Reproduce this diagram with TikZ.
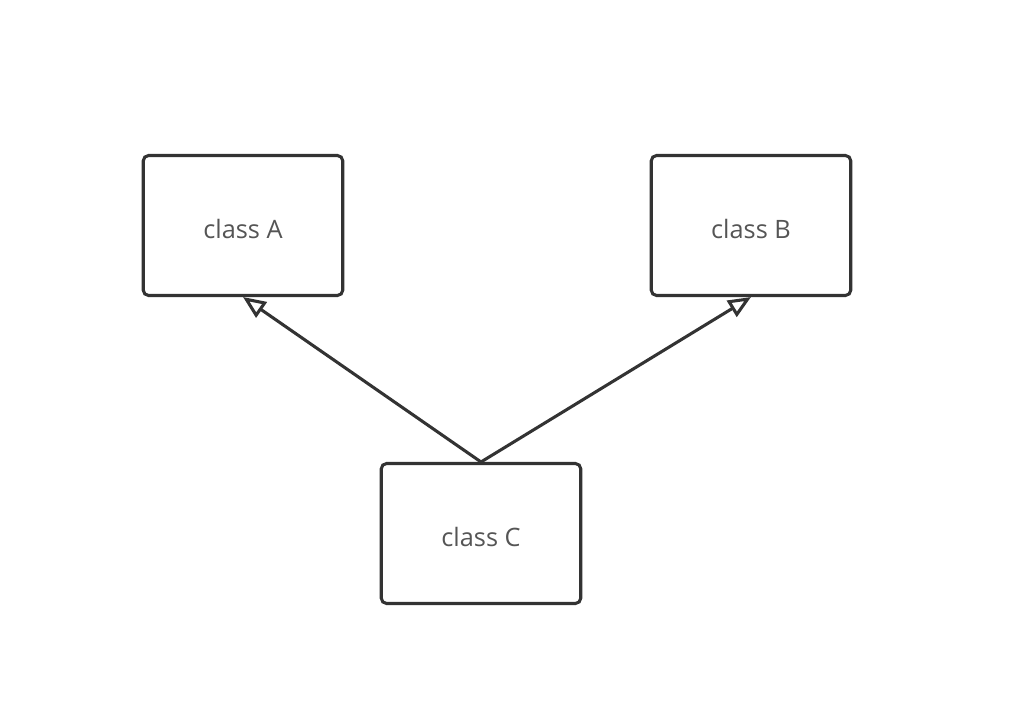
\documentclass[tikz,border=0pt]{standalone}
\usepackage{fontspec}
\setmainfont{Open Sans}
\usetikzlibrary{arrows.meta}
\definecolor{linec}{HTML}{333333}
\definecolor{textc}{HTML}{555555}
\begin{document}
\begin{tikzpicture}[x=0.75pt,y=-0.75pt,
  classbox/.style={draw=linec, line width=2.3pt, rounded corners=4pt, fill=white,
    minimum width=199.5*0.75pt, minimum height=140*0.75pt, inner sep=0pt,
    font=\fontsize{19pt}{22pt}\selectfont, text=textc},
  inherit/.style={draw=linec, line width=2.3pt,
    -{Triangle[open, length=17pt, width=14pt, line width=2.3pt]}}]
\useasboundingbox (0,0) rectangle (1016,709);
\node[classbox] (A) at (243,225.5) {};
\node[classbox] (B) at (751,225.5) {};
\node[classbox] (C) at (481,533.5) {};
\node[font=\fontsize{19pt}{22pt}\selectfont, text=textc] (tA) at (243,229) {class A};
\node[font=\fontsize{19pt}{22pt}\selectfont, text=textc] (tB) at (751,229) {class B};
\node[font=\fontsize{19pt}{22pt}\selectfont, text=textc] (tC) at (481,537) {class C};
\draw[inherit] (C.north) -- (A.south);
\draw[inherit] (C.north) -- (B.south);
\end{tikzpicture}
\end{document}
